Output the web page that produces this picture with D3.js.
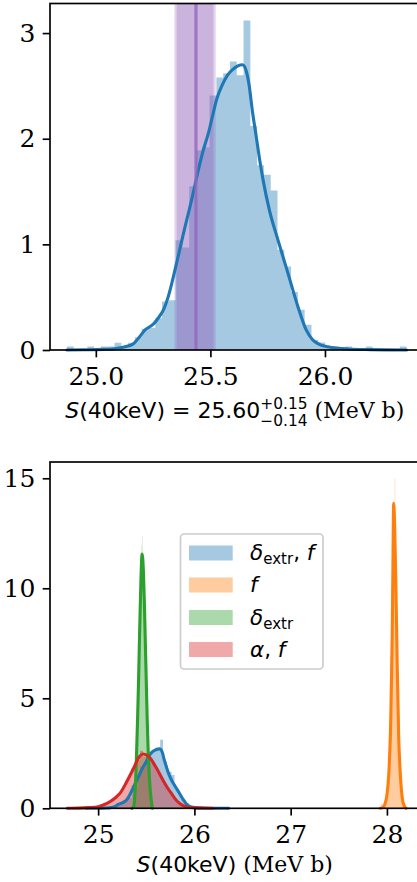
<!DOCTYPE html>
<html>
<head>
<meta charset="utf-8">
<script src="https://cdn.jsdelivr.net/npm/d3@7"></script>
<style>
  html, body { margin: 0; padding: 0; background: #fff; }
  svg { display: block; }
  text { white-space: pre; }
</style>
</head>
<body>
<svg id="chart" width="417" height="882"></svg>
<script>
// ---------- data ----------
// δ_extr, f : posterior samples of S(40 keV), histogram (50 bins) + KDE
const blueHistRange = [24.874, 26.356];
const blueHist = [0.034, 0, 0, 0.034, 0, 0.034, 0.034, 0.068, 0.034, 0.068,
                  0.12, 0.20, 0.21, 0.30, 0.46, 0.47, 1.04, 0.97, 1.55, 1.89,
                  1.92, 2.41, 2.58, 2.62, 2.73, 2.60, 3.12, 2.12, 1.75, 1.66,
                  1.51, 0.95, 0.79, 0.55, 0.38, 0.24, 0.095, 0.07, 0.034, 0.034,
                  0, 0.034, 0, 0, 0.034, 0, 0, 0, 0, 0.034];
const blueKde = [[24.874,0],[24.95,0.002],[25.03,0.006],[25.09,0.015],[25.128,0.03],[25.164,0.06],
                 [25.193,0.13],[25.215,0.19],[25.235,0.22],[25.251,0.245],[25.275,0.31],[25.295,0.38],
                 [25.318,0.52],[25.338,0.69],[25.36,0.89],[25.382,1.10],[25.40,1.26],[25.418,1.42],
                 [25.447,1.70],[25.47,1.90],[25.491,2.05],[25.51,2.22],[25.527,2.37],[25.55,2.50],
                 [25.574,2.60],[25.60,2.66],[25.62,2.69],[25.64,2.70],[25.655,2.65],[25.668,2.52],
                 [25.684,2.25],[25.70,2.02],[25.715,1.80],[25.729,1.62],[25.758,1.32],[25.795,1.04],
                 [25.838,0.73],[25.882,0.41],[25.918,0.19],[25.945,0.10],[25.969,0.06],[26.013,0.03],
                 [26.10,0.01],[26.20,0.004],[26.356,0]];

// f only
const orangeHistRange = [27.94, 28.20];
const orangeHist = [0.19, 0.19, 0, 0.19, 0.19, 0.19, 0.19, 0.38, 0.19, 0.38,
                    0.38, 0.56, 0.75, 1.13, 1.50, 2.25, 3.20, 4.30, 5.65, 6.95,
                    8.45, 10.10, 11.30, 12.60, 13.20, 13.90, 13.70, 15.00, 12.30, 11.40,
                    9.80, 8.50, 6.80, 5.50, 4.10, 3.20, 2.25, 1.70, 1.05, 0.75,
                    0.38, 0.38, 0.19, 0.19, 0, 0.19, 0, 0, 0, 0.19];
const orangeKde = [[27.93,0],[27.96,0.05],[27.98,0.2],[28.00,0.6],[28.02,1.6],[28.04,4.0],
                   [28.055,7.8],[28.063,11.2],[28.07,13.86],[28.08,12.9],[28.092,10.4],[28.107,6.5],
                   [28.122,3.3],[28.14,1.5],[28.16,0.45],[28.18,0.1],[28.20,0]];

// δ_extr only
const greenHistRange = [25.365, 25.55];
const greenHist = [0.38, 0.50, 0.62, 0.90, 1.02, 1.40, 1.60, 2.10, 2.40, 3.05,
                   3.45, 4.25, 4.70, 5.60, 6.10, 7.10, 7.60, 8.60, 9.00, 9.95,
                   10.10, 10.95, 11.05, 11.97, 11.40, 11.60, 12.35, 10.95, 10.80, 10.05,
                   9.70, 8.85, 8.35, 7.40, 6.85, 5.90, 5.40, 4.50, 4.05, 3.25,
                   2.90, 2.25, 2.00, 1.50, 1.30, 0.95, 0.80, 0.58, 0.48, 0.33];
const greenKde = [[25.35,0],[25.37,0.08],[25.38,0.5],[25.39,1.3],[25.40,2.6],[25.41,4.1],[25.42,5.8],
                  [25.43,7.8],[25.44,9.6],[25.457,11.56],[25.47,10.8],[25.48,9.4],[25.49,7.6],
                  [25.50,5.8],[25.51,4.0],[25.52,2.6],[25.53,1.6],[25.54,0.9],[25.55,0.45],
                  [25.563,0]];

// α, f
const redHistRange = [24.68, 26.19];
const redHist = [0.03, 0, 0, 0.03, 0, 0.03, 0.03, 0.03, 0.07, 0.03,
                 0.10, 0.07, 0.17, 0.20, 0.30, 0.40, 0.43, 0.66, 0.76, 0.99,
                 1.22, 1.45, 1.82, 2.05, 2.20, 2.62, 2.35, 2.45, 2.20, 2.05,
                 1.85, 1.60, 1.38, 1.10, 0.92, 0.70, 0.55, 0.36, 0.26, 0.16,
                 0.10, 0.07, 0.03, 0.03, 0.03, 0, 0, 0.03, 0, 0.03];
const redKde = [[24.68,0],[24.80,0.01],[24.90,0.03],[25.00,0.07],[25.06,0.16],[25.13,0.32],
                [25.18,0.48],[25.23,0.70],[25.30,1.23],[25.37,1.83],[25.42,2.29],[25.467,2.47],
                [25.525,2.36],[25.595,1.91],[25.68,1.23],[25.725,0.90],[25.77,0.62],[25.81,0.38],
                [25.855,0.20],[25.92,0.06],[26.00,0.02],[26.10,0.005],[26.19,0]];

// reference value band drawn on the upper panel
const refValue = 25.437;
const refBandOuter = [25.343, 25.523];
const refBandInner = [25.353, 25.513];

// axes limits and ticks
const topXLim = [24.80, 26.43];
const topYLim = [0, 3.28];
const topXTicks = [25.0, 25.5, 26.0];
const topXTickLabels = ["25.0", "25.5", "26.0"];
const topYTicks = [0, 1, 2, 3];
const topYTickLabels = ["0", "1", "2", "3"];

const botXLim = [24.50, 28.38];
const botYLim = [0, 15.74];
const botXTicks = [25, 26, 27, 28];
const botXTickLabels = ["25", "26", "27", "28"];
const botYTicks = [0, 5, 10, 15];
const botYTickLabels = ["0", "5", "10", "15"];

const legendLabels = ["δ_extr, f", "f", "δ_extr", "α, f"];

// ---------- drawing ----------
const COLORS = { blue: "#1f77b4", orange: "#ff7f0e", green: "#2ca02c", red: "#d62728", purple: "#9467bd" };
const SERIF = "DejaVu Serif";
const SANS = "DejaVu Sans";
const TICK_FS = 25;
const LABEL_FS = 22;
const LEGEND_FS = 21.5;
const LW = 1.67;
const TICK_LEN = 7.3;
const KDE_LW = 3.1;

const svg = d3.select("#chart");
svg.append("rect").attr("width", 417).attr("height", 882).attr("fill", "#fff");

const AX_LEFT = 50, AX_RIGHT = 423.5;

function drawHist(g, x, y, range, values, color) {
  const w = (range[1] - range[0]) / values.length;
  const pts = values.map((v, i) => [range[0] + i * w, v]);
  pts.push([range[1], values[values.length - 1]]);
  const area = d3.area()
    .x(d => x(d[0]))
    .y0(y(0))
    .y1(d => y(d[1]))
    .curve(d3.curveStepAfter);
  g.append("path").attr("d", area(pts)).attr("fill", color).attr("fill-opacity", 0.4);
}

function drawKde(g, x, y, pts, color) {
  const line = d3.line().x(d => x(d[0])).y(d => y(d[1])).curve(d3.curveMonotoneX);
  g.append("path").attr("d", line(pts)).attr("fill", "none")
    .attr("stroke", color).attr("stroke-width", KDE_LW)
    .attr("stroke-linejoin", "round").attr("stroke-linecap", "round");
}

function drawAxes(x, y, xTicks, xLabels, yTicks, yLabels) {
  const [y0, y1] = y.range();
  const gx = svg.append("g").attr("transform", `translate(0,${y0})`)
    .call(d3.axisBottom(x).tickValues(xTicks).tickFormat((d, i) => xLabels[i])
      .tickSize(TICK_LEN).tickPadding(TICK_LEN));
  const gy = svg.append("g").attr("transform", `translate(${AX_LEFT},0)`)
    .call(d3.axisLeft(y).tickValues(yTicks).tickFormat((d, i) => yLabels[i])
      .tickSize(TICK_LEN).tickPadding(TICK_LEN));
  [gx, gy].forEach(g => {
    g.select(".domain").remove();
    g.attr("font-family", SERIF).attr("font-size", TICK_FS);
    g.selectAll("line").attr("stroke", "#000").attr("stroke-width", LW);
    g.selectAll("text").attr("fill", "#000");
  });
  gx.selectAll("text").attr("dy", "0.8em");
  gy.selectAll("text").attr("dy", "0.33em");
  svg.append("rect")
    .attr("x", AX_LEFT).attr("y", y1)
    .attr("width", AX_RIGHT - AX_LEFT).attr("height", y0 - y1)
    .attr("fill", "none").attr("stroke", "#000").attr("stroke-width", LW);
}

// Lay out a run of text pieces (math-style), centred on cx (or starting at cx) at baseline by.
function drawRuns(parent, runs, size, cx, by, anchor) {
  const g = parent.append("g");
  let xp = 0;
  runs.forEach(r => {
    if (r.stack) {
      const s = size * 0.7;
      const a = g.append("text").attr("x", xp).attr("y", -r.up)
        .attr("font-family", SANS).attr("font-size", s).text(r.stack[0]);
      const b = g.append("text").attr("x", xp).attr("y", r.down)
        .attr("font-family", SANS).attr("font-size", s).text(r.stack[1]);
      xp += Math.max(a.node().getComputedTextLength(), b.node().getComputedTextLength());
    } else {
      const s = r.sub ? size * 0.7 : size;
      const t = g.append("text").attr("x", xp).attr("y", r.sub ? r.sub : 0)
        .attr("font-family", r.serif ? SERIF : SANS)
        .attr("font-style", r.it ? "italic" : "normal")
        .attr("font-size", s).text(r.t);
      xp += t.node().getComputedTextLength();
    }
  });
  g.selectAll("text").attr("fill", "#000");
  const x0 = anchor === "start" ? cx : cx - xp / 2;
  g.attr("transform", `translate(${x0},${by})`);
  return g;
}

// ----- upper panel -----
const xTop = d3.scaleLinear().domain(topXLim).range([AX_LEFT, AX_RIGHT]);
const yTop = d3.scaleLinear().domain(topYLim).range([350, 3.5]);
const gTop = svg.append("g");
drawHist(gTop, xTop, yTop, blueHistRange, blueHist, COLORS.blue);
[refBandOuter, refBandInner].forEach(b => {
  gTop.append("rect")
    .attr("x", xTop(b[0])).attr("width", xTop(b[1]) - xTop(b[0]))
    .attr("y", yTop(topYLim[1])).attr("height", yTop(0) - yTop(topYLim[1]))
    .attr("fill", COLORS.purple).attr("fill-opacity", 0.29);
});
drawKde(gTop, xTop, yTop, blueKde, COLORS.blue);
gTop.append("line")
  .attr("x1", xTop(refValue)).attr("x2", xTop(refValue))
  .attr("y1", yTop(topYLim[1])).attr("y2", yTop(0))
  .attr("stroke", COLORS.purple).attr("stroke-width", 3.2).attr("stroke-opacity", 0.8);
drawAxes(xTop, yTop, topXTicks, topXTickLabels, topYTicks, topYTickLabels);

drawRuns(svg, [
  { t: "S", it: true },
  { t: "(40keV) = 25.60" },
  { stack: ["+0.15", "\u22120.14"], up: 9, down: 7.5 },
  { t: " (MeV b)", serif: true }
], LABEL_FS, (AX_LEFT + AX_RIGHT) / 2 - 2, 418.3);

// ----- lower panel -----
const xBot = d3.scaleLinear().domain(botXLim).range([AX_LEFT, AX_RIGHT]);
const yBot = d3.scaleLinear().domain(botYLim).range([808.3, 462]);
const gBot = svg.append("g");
const series = [
  { hr: blueHistRange, h: blueHist, k: blueKde, c: COLORS.blue },
  { hr: orangeHistRange, h: orangeHist, k: orangeKde, c: COLORS.orange },
  { hr: greenHistRange, h: greenHist, k: greenKde, c: COLORS.green },
  { hr: redHistRange, h: redHist, k: redKde, c: COLORS.red }
];
series.forEach(s => drawHist(gBot, xBot, yBot, s.hr, s.h, s.c));
series.forEach(s => drawKde(gBot, xBot, yBot, s.k, s.c));
drawAxes(xBot, yBot, botXTicks, botXTickLabels, botYTicks, botYTickLabels);

drawRuns(svg, [
  { t: "S", it: true },
  { t: "(40keV)" },
  { t: " (MeV b)", serif: true }
], LABEL_FS, (AX_LEFT + AX_RIGHT) / 2 - 2, 871.7);

// legend
const leg = svg.append("g");
leg.append("rect").attr("x", 180.5).attr("y", 534).attr("width", 142.5).attr("height", 135)
  .attr("rx", 3.5).attr("fill", "#fff").attr("fill-opacity", 0.8)
  .attr("stroke", "#cccccc").attr("stroke-width", LW);
const legRows = [553, 585, 617.5, 649.5];
const legColors = [COLORS.blue, COLORS.orange, COLORS.green, COLORS.red];
function labelRuns(lbl) {
  // "δ_extr, f" style labels: symbols italic, subscript upright
  const runs = [];
  const m = lbl.match(/^(.*?)(?:_(\w+))?(, .*)?$/);
  const head = m[1], sub = m[2], tail = m[3];
  runs.push({ t: head, it: true });
  if (sub) runs.push({ t: sub, sub: 4 });
  if (tail) {
    runs.push({ t: ", " });
    runs.push({ t: tail.slice(2), it: true });
  }
  return runs;
}
legendLabels.forEach((lbl, i) => {
  leg.append("rect").attr("x", 189).attr("y", legRows[i] - 7.5).attr("width", 43.7).attr("height", 15)
    .attr("fill", legColors[i]).attr("fill-opacity", 0.4);
  drawRuns(leg, labelRuns(lbl), LEGEND_FS, 250, legRows[i] + 7, "start");
});
</script>
</body>
</html>
